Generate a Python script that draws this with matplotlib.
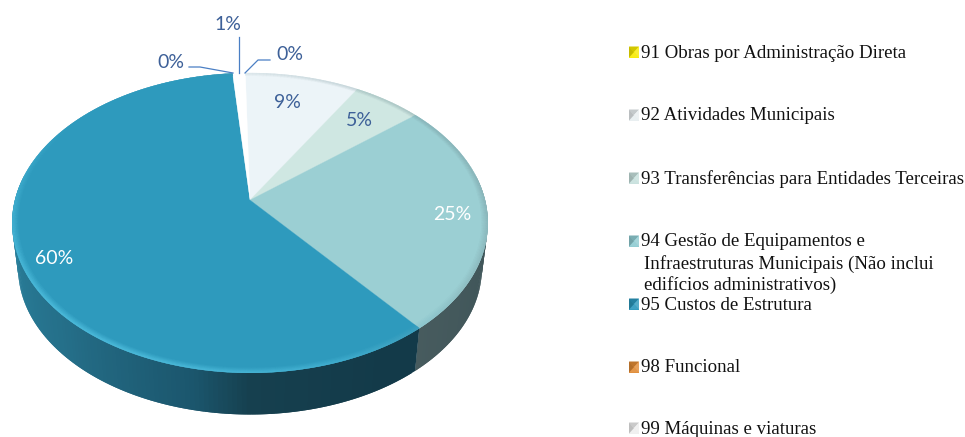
import numpy as np
import matplotlib
matplotlib.use('Agg')
import matplotlib.pyplot as plt
from matplotlib.collections import PolyCollection
from matplotlib.colors import to_rgb

# legend order, clockwise from the top of the pie
categories = ["91 Obras por Administração Direta", "92 Atividades Municipais",
              "93 Transferências para Entidades Terceiras",
              "94 Gestão de Equipamentos e\nInfraestruturas Municipais (Não inclui\nedifícios administrativos)",
              "95 Custos de Estrutura", "98 Funcional", "99 Máquinas e viaturas"]
values = [0.0, 9.0, 5.4, 25.0, 59.6, 0.0, 1.0]

# styles
top_colors = ['#f5e900', '#ecf4f8', '#cfe7e2', '#9bcfd3', '#2e9abd', '#d9782d', '#ffffff']
swatch_colors = ['#f7ea00', '#e8eef0', '#c6e0dc', '#8ecbd1', '#2a97bc', '#e08a35', '#eeeeee']
legend_y = [52, 115, 178, 241, 304, 367, 428]
label_xy = [(290, 54), (287, 102), (359, 120), (452, 214), (54, 259), (171, 62), (228, 25)]
label_col = ['#3d6098', '#3d6098', '#3d6098', '#ffffff', '#ffffff', '#3d6098', '#3d6098']

cx, cy = 250, 200
A, B, k = 235, 146.4, 0.153
start = -1.3
depth_scale, depth_off = 0.975, 46


def project(theta, r=1.0, s=1.0, off=0.0):
    t = np.radians(theta)
    u, v = r * np.sin(t), r * np.cos(t)
    d = 1 + k * v
    return cx + s * A * u / d, cy + off - s * B * v / d


def mix(a, b, t):
    return tuple((1 - t) * x + t * y for x, y in zip(to_rgb(a), to_rgb(b)))


fig = plt.figure(figsize=(9.65, 4.37), dpi=100)
ax = fig.add_axes([0, 0, 1, 1])
ax.set_xlim(0, 965)
ax.set_ylim(437, 0)
ax.axis('off')

edges = start + np.cumsum([0] + values) / sum(values) * 360

# side wall, only the front half shows. strips overlap so no seams show
side_t = [85, 150, 180, 192, 225, 262, 275]
side_c = np.array([to_rgb(c) for c in ['#133a49', '#133a49', '#16404f', '#1b566d', '#256f89', '#29809c', '#29809c']])
for i in range(len(values)):
    a0, a1 = max(edges[i], 80), min(edges[i + 1], 280)
    if a1 <= a0:
        continue
    th = np.linspace(a0, a1, max(int(a1 - a0), 1) + 1)
    for t0, t1 in zip(th[:-1], th[1:]):
        t2 = min(t1 + 1.0, a1)
        x0, y0 = project(t0)
        x1, y1 = project(t2)
        x2, y2 = project(t2, s=depth_scale, off=depth_off)
        x3, y3 = project(t0, s=depth_scale, off=depth_off)
        if i == 3:
            c = mix('#3c5357', '#475b5e', (t0 - 90) / 50)
        else:
            c = tuple(np.interp((t0 + t1) / 2, side_t, side_c[:, j]) for j in range(3))
        ax.fill([x0, x1, x2, x3], [y0, y1, y2, y3], color=c, lw=0, zorder=2)

# top face
for i in range(len(values)):
    if values[i] == 0:
        continue
    th = np.linspace(edges[i], edges[i + 1], max(int(edges[i + 1] - edges[i]) * 2, 2) + 1)
    x, y = project(th)
    ax.fill(np.r_[cx, x], np.r_[cy, y], color=top_colors[i], lw=0.2, zorder=3)

# bevel along the rim: light at front left, grey at the back and right
bands = np.linspace(0.975, 1.0, 6)
polys, cols = [], []
for i in range(len(values)):
    if values[i] == 0 or i == 6:
        continue
    th = np.linspace(edges[i], edges[i + 1], max(int(edges[i + 1] - edges[i]), 1) + 1)
    for b, (r0, r1) in enumerate(zip(bands[:-1], bands[1:])):
        w = (b + 1) / 5
        for t0, t1 in zip(th[:-1], th[1:]):
            tm = (t0 + t1) / 2
            light = max(0, np.cos(np.radians(tm - 215)))
            dark = max(0, np.cos(np.radians(tm - 70)))
            c = mix(top_colors[i], '#5fd0ee', 0.6 * light * w)
            c = mix(c, '#6f8f95', 0.4 * dark * w)
            xa, ya = project(t0, r0)
            xb, yb = project(t1, r0)
            xc, yc = project(t1, r1)
            xd, yd = project(t0, r1)
            polys.append([(xa, ya), (xb, yb), (xc, yc), (xd, yd)])
            cols.append(c)
ax.add_collection(PolyCollection(polys, facecolors=cols, edgecolors=cols, linewidths=0.2, zorder=4))

# data labels
for v, (lx, ly), c in zip(values, label_xy, label_col):
    ax.text(lx, ly, f"{v:.0f}%", color=c, fontsize=14, family='Lato', ha='center', va='center', zorder=6)

# leader lines for the small slices
ax.plot([189, 200, 233], [67, 67, 73], color='#4a7fc4', lw=0.9, zorder=5)
ax.plot([239, 239], [37, 73], color='#4a7fc4', lw=0.9, zorder=5)
ax.plot([270, 258, 245], [60, 60, 73], color='#4a7fc4', lw=0.9, zorder=5)

# legend with small pyramid swatches
for name, y, c in zip(categories, legend_y, swatch_colors):
    x0, x1, s0, s1 = 629, 639, y - 5.5, y + 5.5
    xm = (x0 + x1) / 2
    ax.fill([x0, x1, x1, x0], [s0, s0, s1, s1], color=c, lw=0, zorder=5)
    ax.fill([x0, xm, x1], [s0, y, s0], color=mix(c, '#000000', 0.15), lw=0, zorder=5)
    ax.fill([x0, xm, x1], [s1, y, s1], color=mix(c, '#ffffff', 0.1), lw=0, zorder=5)
    ax.fill([x0, xm, x0], [s0, y, s1], color=mix(c, '#000000', 0.2), lw=0, zorder=5)
    ax.fill([x1, xm, x1], [s0, y, s1], color=mix(c, '#ffffff', 0.2), lw=0, zorder=5)
    for j, line in enumerate(name.split("\n")):
        ax.text(641 if j == 0 else 644, y + 1 + 21.7 * j, line, color='#111111', fontsize=13.55,
                family='Liberation Serif', ha='left', va='center', zorder=6)

plt.savefig('out.png', dpi=100)
